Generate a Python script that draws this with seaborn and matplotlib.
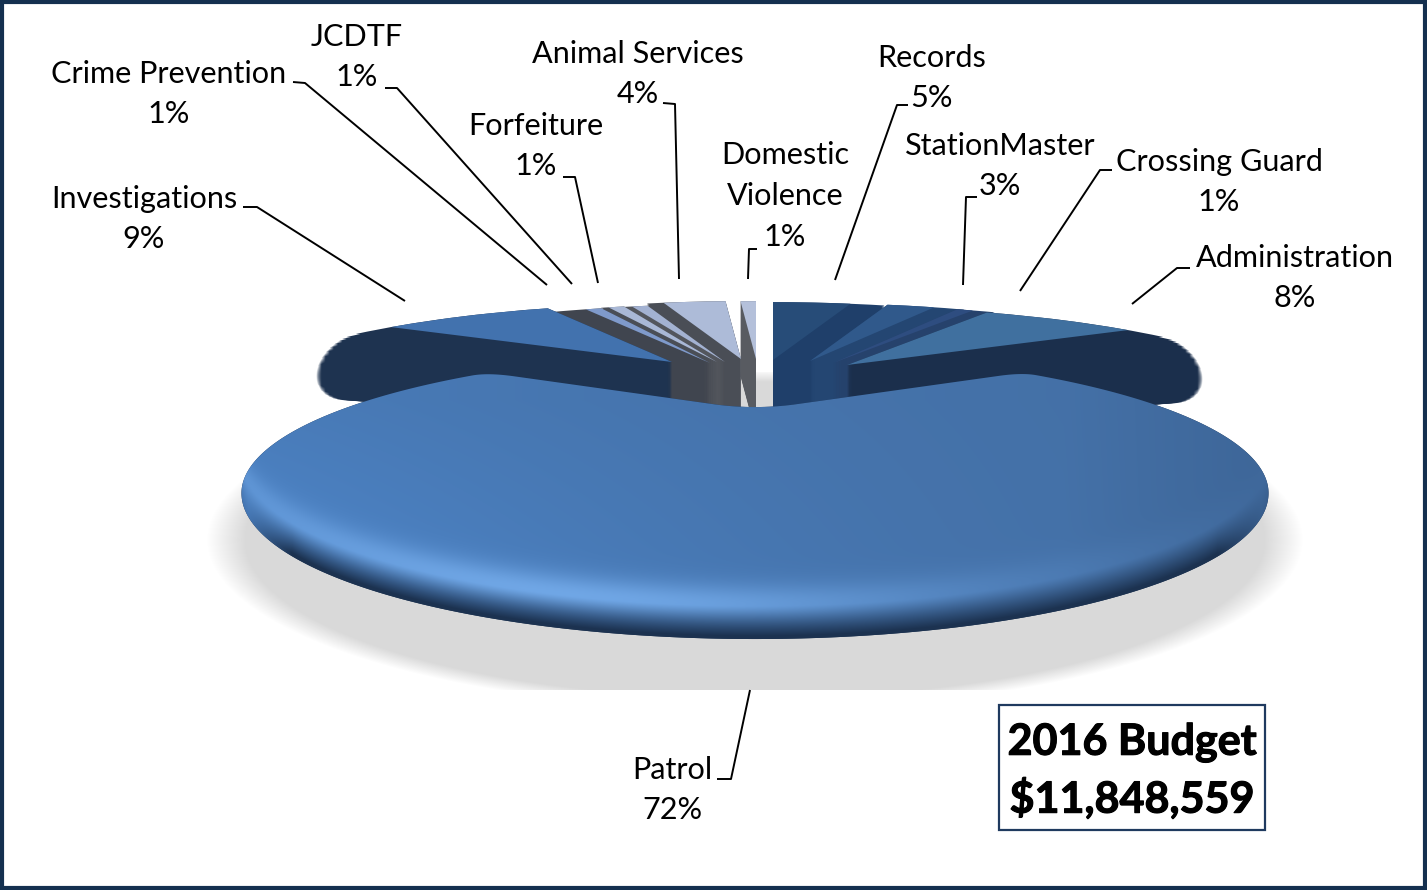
import numpy as np
import matplotlib
matplotlib.use("Agg")
import matplotlib.pyplot as plt
import matplotlib.patches as mpatches
import matplotlib.patheffects as pe
import matplotlib.transforms as mtransforms
from matplotlib.colors import to_rgb
import seaborn as sns

# Values
categories = ["Patrol", "Investigations", "Crime Prevention", "JCDTF", "Forfeiture",
              "Animal Services", "Domestic\nViolence", "Records", "StationMaster",
              "Crossing Guard", "Administration"]
shares = [72, 9, 1, 1, 1, 4, 1, 5, 3, 1, 8]
box_lines = ["2016 Budget", "$11,848,559"]

# slice colours (top face, cut side)
face_colors = ["#4472A8", "#4272AE", "#7F9ACB", "#A9B8D6", "#A3B2D2", "#ADBBD8",
               "#B4C0DA", "#274C78", "#30598B", "#2E4D80", "#40709F"]
side_colors = ["#1C3250", "#1E3350", "#40454F", "#4A4E56", "#53565D", "#4A4E56",
               "#585B61", "#1F3F6A", "#244672", "#26426C", "#1B2F4C"]

# where every slice sits after exploding (pixels), how deep its side is,
# and how far the cut side fans out past the face (degrees)
offsets = [(0, 50), (-83, 2), (-45, 3), (-38, 2), (-30, 2), (-14, -1), (1, -1),
           (18, 0), (55, 1), (78, 3), (92, 5)]
depths = [0, 65, 75, 75, 75, 75, 75, 75, 75, 75, 65]
fan = [0, 19, 8.6, 1.6, 1.8, 3.6, 0, 7.4, 6.5, 4.7, 19]

label_pos = [(672, 790), (144, 219), (169, 94), (357, 57), (536, 146), (638, 74),
             (785, 196), (932, 78), (1000, 166), (1219, 182), (1295, 278)]
leaders = [[(717, 779), (731, 779), (750, 690)],
           [(243, 207), (257, 207), (405, 301)],
           [(293, 82), (305, 83), (547, 285)],
           [(385, 88), (397, 88), (572, 284)],
           [(563, 177), (575, 177), (598, 283)],
           [(663, 103), (675, 104), (679, 279)],
           [(757, 249), (749, 249), (748, 279)],
           [(908, 105), (897, 105), (835, 280)],
           [(977, 197), (966, 197), (963, 285)],
           [(1112, 170), (1100, 170), (1020, 291)],
           [(1190, 268), (1177, 268), (1132, 304)]]


class TiltTransform(mtransforms.Transform):
    # lays the unit pie on a table seen from a low angle
    input_dims = 2
    output_dims = 2
    is_separable = False

    def transform_non_affine(self, values):
        values = np.asarray(values)
        w = 1 + 0.59 * values[:, 1]
        return np.column_stack((755 + 415 * values[:, 0] / w, 360 - 92 * values[:, 1] / w))


sns.set_style("white")
plt.rcParams["font.family"] = ["Lato", "DejaVu Sans"]

fig = plt.figure(figsize=(14.27, 8.9), dpi=100)
ax = fig.add_axes([0, 0, 1, 1])
tilt = TiltTransform()

start = 270 + shares[0] / sum(shares) * 180 - 360
wedges, _ = ax.pie(shares, startangle=start, counterclock=False, colors=face_colors)
ax.set_aspect("auto")
ax.axis("off")

yy, xx = np.mgrid[0:890, 0:1427] + 0.5

# table shadow, cropped flat at top and bottom
rho = np.sqrt(((xx - 755) / 548) ** 2 + ((yy - 540) / 170) ** 2)
shadow = np.ones((890, 1427, 4)) * np.array(to_rgb("#D9D9D9") + (1,))
shadow[..., 3] = np.clip((1 - rho) / 0.07, 0, 1)
shadow[(yy < 372) | (yy > 690), 3] = 0
ax.imshow(shadow, extent=(0, 1427, 890, 0), aspect="auto", zorder=1)


def place(i, extra=0):
    dx, dy = offsets[i]
    return tilt + mtransforms.Affine2D().translate(dx, dy + extra) + ax.transData


# paint back to front: inner slices first, outer ones over them
left_group = [6, 5, 4, 3, 2, 1]
right_group = [7, 8, 9, 10]
z = 2
for i in left_group + right_group:
    w = wedges[i]
    for k in np.arange(depths[i], -1, -1):
        spread = fan[i]
        if i in (1, 10):
            # the two big slices end in a rounded lobe
            spread = fan[i] * (0.55 + 0.45 * np.sqrt(max(0, 1 - (2 * k / depths[i] - 1) ** 2)))
        t1, t2 = w.theta1, w.theta2
        if i in left_group:
            t2 += spread
        else:
            t1 -= spread
        side = mpatches.Wedge((0, 0), 1, t1, t2, facecolor=side_colors[i], edgecolor="none")
        side.set_transform(place(i, k))
        side.set_zorder(z)
        ax.add_patch(side)
    z += 1
    if i == 1:
        w.set_theta2(w.theta2 + 3)
    if i == 10:
        w.set_theta1(w.theta1 - 3)
    w.set_transform(place(i))
    w.set_zorder(z)
    w.set_edgecolor("none")
    z += 1

# Patrol: wedge outline from the pie angles, corners rounded like the bevelled original
patrol = wedges[0]
patrol.set_visible(False)
arc = np.radians(np.linspace(patrol.theta1, patrol.theta2, 600))
rim = np.column_stack((np.cos(arc), np.sin(arc)))
ramp = np.linspace(0, 1, 70)[:, None]
outline = np.vstack((ramp[:-1] * rim[0], rim, ramp[:0:-1] * rim[-1]))
pts = tilt.transform(outline) + np.array(offsets[0])
win = 17
kernel = np.ones(win) / win
pad = np.vstack((pts[-win:], pts, pts[:win]))
pts = np.column_stack([np.convolve(pad[:, c], kernel, mode="same")[win:-win] for c in (0, 1)])
below = pts[:, 1] > 493
pts[below, 1] += 5 * (pts[below, 1] - 493) / 142
patrol_face = mpatches.Polygon(pts, closed=True, facecolor=side_colors[0], edgecolor="none",
                               zorder=41)
ax.add_patch(patrol_face)

ex = np.clip((xx - 755) / 514, -1, 1)
d = 493 + 147 * np.sqrt(1 - ex ** 2) - yy
base = np.array(to_rgb("#4470A6"))
light = np.array(to_rgb("#4E87CC"))
shine = np.array(to_rgb("#74ABEA"))
dark = np.array(to_rgb(side_colors[0]))
tx = np.clip((xx - 240) / 1030, 0, 1)
ty = np.clip((yy - 400) / 190, 0, 1)
wl = np.clip((1 - tx) ** 1.6 * (0.5 + 0.5 * ty) * 1.0, 0, 1)[..., None]
top = base * (1 - wl) + light * wl
wr = np.clip((tx - 0.8) * 0.8, 0, 0.15)[..., None]
top = top * (1 - wr) + dark * wr
ws = (np.exp(-((d - 36) / 20) ** 2) * np.exp(-((xx - 560) / 380) ** 2) * 0.9)[..., None]
top = top * (1 - ws) + shine * ws
tips = np.clip((1 - np.abs(ex)) / 0.1, 0.15, 1)
wd = ((np.clip((34 - d) / 30, 0, 1) ** 1.2) * tips)[..., None]
top = top * (1 - wd) + dark * wd
im = ax.imshow(np.clip(top, 0, 1), extent=(0, 1427, 890, 0), aspect="auto", zorder=42)
im.set_clip_path(patrol_face)
ax.set_xlim(0, 1427)
ax.set_ylim(890, 0)

# labels and leader lines
for name, share, pos, line in zip(categories, shares, label_pos, leaders):
    ax.text(pos[0], pos[1], f"{name}\n{share}%", ha="center", va="center",
            fontsize=22.1, color="black", linespacing=1.56, zorder=50)
    xs, ys = zip(*line)
    ax.plot(xs, ys, color="black", lw=1.4, zorder=49, solid_capstyle="butt")

# budget box
ax.add_patch(mpatches.Rectangle((999, 705), 266, 125, facecolor="white",
                                edgecolor="#1F3A5F", lw=1.6, zorder=50))
for line, y in zip(box_lines, (742, 798)):
    ax.text(1132, y, line, ha="center", va="center", fontsize=31, fontweight="bold",
            color="black", zorder=51,
            path_effects=[pe.withStroke(linewidth=0.8, foreground="black")])

# outer frame
ax.add_patch(mpatches.Rectangle((1.5, 1.5), 1423, 886, facecolor="none",
                                edgecolor="#14304F", lw=3, zorder=60, clip_on=False))

fig.savefig("out.png", dpi=100)
